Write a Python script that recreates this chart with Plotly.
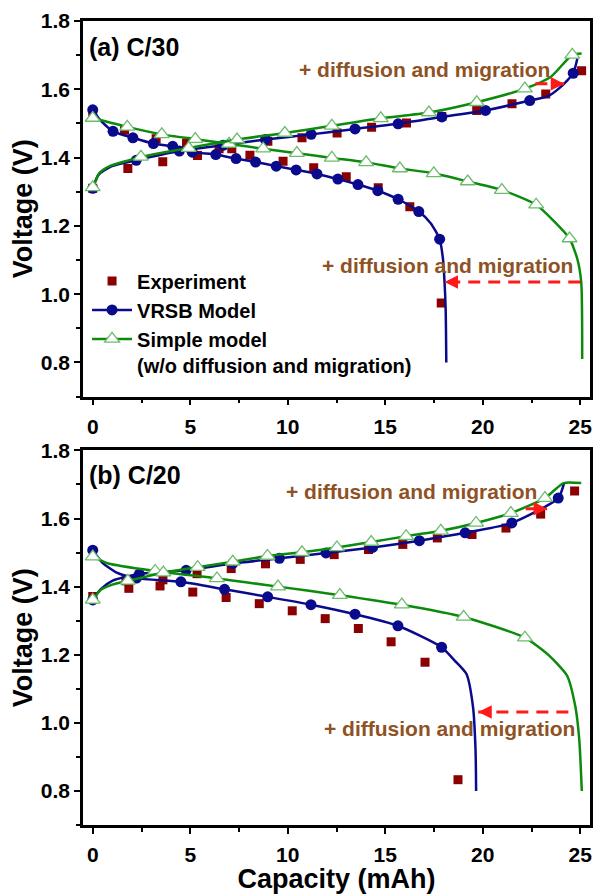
import plotly.graph_objects as go

FONT = "Arial, Liberation Sans, sans-serif"

# ---------------- Panel (a) C/30 ----------------
exp_a_dis_x = [0, 1.63, 3.25, 4.81, 6.48, 8.06, 9.76, 11.33, 13.0, 14.64, 16.26, 17.87]
exp_a_dis_y = [1.526, 1.48, 1.455, 1.443, 1.426, 1.407, 1.389, 1.370, 1.344, 1.312, 1.256, 0.974]
exp_a_chg_x = [0, 1.8, 3.59, 5.37, 7.13, 8.98, 10.73, 12.53, 14.3, 16.09, 17.9, 19.69, 21.5, 23.23, 25.07]
exp_a_chg_y = [1.31, 1.368, 1.388, 1.406, 1.426, 1.448, 1.458, 1.472, 1.489, 1.501, 1.52, 1.538, 1.558, 1.586, 1.654]

vrsb_a_dis_mx = [0, 1.04, 2.06, 3.11, 4.1, 5.1, 6.31, 7.35, 8.35, 9.41, 10.43, 11.5, 12.57, 13.6, 14.62, 15.66, 16.72, 17.79]
vrsb_a_dis_my = [1.54, 1.477, 1.458, 1.441, 1.433, 1.416, 1.409, 1.397, 1.387, 1.375, 1.364, 1.352, 1.337, 1.321, 1.303, 1.278, 1.242, 1.161]
vrsb_a_dis_lx = [0, 0.36, 1.04, 2.06, 3.11, 4.1, 5.1, 6.31, 7.35, 8.35, 9.41, 10.43, 11.5, 12.57, 13.6, 14.62, 15.66, 16.72, 17.33, 17.79, 17.96, 18.04, 18.1, 18.13]
vrsb_a_dis_ly = [1.54, 1.511, 1.477, 1.458, 1.441, 1.433, 1.416, 1.409, 1.397, 1.387, 1.375, 1.364, 1.352, 1.337, 1.321, 1.303, 1.278, 1.242, 1.208, 1.161, 1.103, 1.036, 0.95, 0.80]

vrsb_a_chg_mx = [0, 2.23, 4.44, 6.68, 8.86, 11.2, 13.45, 15.66, 17.9, 20.14, 22.41, 24.64]
vrsb_a_chg_my = [1.31, 1.392, 1.419, 1.436, 1.453, 1.468, 1.484, 1.499, 1.519, 1.538, 1.567, 1.647]
vrsb_a_chg_lx = [0, 0.3, 0.9, 2.23, 4.44, 6.68, 8.86, 11.2, 13.45, 15.66, 17.9, 20.14, 22.41, 23.32, 24.0, 24.64, 24.85]
vrsb_a_chg_ly = [1.31, 1.35, 1.373, 1.392, 1.419, 1.436, 1.453, 1.468, 1.484, 1.499, 1.519, 1.538, 1.567, 1.579, 1.607, 1.647, 1.69]

simp_a_dis_mx = [0, 1.77, 3.54, 5.26, 6.99, 8.74, 10.47, 12.26, 14.02, 15.75, 17.49, 19.23, 20.98, 22.74, 24.45]
simp_a_dis_my = [1.516, 1.49, 1.468, 1.454, 1.44, 1.426, 1.413, 1.399, 1.386, 1.368, 1.354, 1.330, 1.305, 1.262, 1.163]
simp_a_dis_lx = simp_a_dis_mx[:14] + [23.65, 24.45, 24.85, 25.05, 25.1]
simp_a_dis_ly = simp_a_dis_my[:14] + [1.214, 1.163, 1.103, 1.035, 0.81]

simp_a_chg_mx = [0, 2.47, 4.92, 7.4, 9.85, 12.26, 14.77, 17.24, 19.69, 22.16, 24.59]
simp_a_chg_my = [1.313, 1.402, 1.428, 1.453, 1.472, 1.493, 1.515, 1.532, 1.562, 1.602, 1.701]
simp_a_chg_lx = [0, 0.36, 0.87, 1.72, 2.47, 4.92, 7.4, 9.85, 12.26, 14.77, 17.24, 19.69, 22.16, 23.5, 24.59, 25.07]
simp_a_chg_ly = [1.313, 1.356, 1.375, 1.39, 1.402, 1.428, 1.453, 1.472, 1.493, 1.515, 1.532, 1.562, 1.602, 1.637, 1.701, 1.705]

# ---------------- Panel (b) C/20 ----------------
exp_b_dis_x = [1.7, 3.45, 5.13, 6.84, 8.54, 10.23, 11.92, 13.62, 15.3, 17.04, 18.73]
exp_b_dis_y = [1.417, 1.402, 1.384, 1.368, 1.35, 1.329, 1.306, 1.277, 1.238, 1.178, 0.833]
exp_b_chg_x = [0, 1.85, 3.6, 5.35, 7.1, 8.86, 10.64, 12.38, 14.14, 15.9, 17.67, 19.45, 21.19, 22.97, 24.71]
exp_b_chg_y = [1.371, 1.395, 1.42, 1.438, 1.453, 1.467, 1.48, 1.494, 1.509, 1.524, 1.543, 1.553, 1.572, 1.613, 1.681]

vrsb_b_dis_mx = [0, 2.24, 4.52, 6.76, 8.97, 11.19, 13.45, 15.65, 17.89]
vrsb_b_dis_my = [1.507, 1.425, 1.414, 1.392, 1.37, 1.347, 1.319, 1.285, 1.222]
vrsb_b_dis_lx = [0, 0.5, 1.2, 2.24, 4.52, 6.76, 8.97, 11.19, 13.45, 15.65, 17.89, 18.56, 19.16, 19.5, 19.63, 19.66]
vrsb_b_dis_ly = [1.507, 1.47, 1.442, 1.425, 1.414, 1.392, 1.37, 1.347, 1.319, 1.285, 1.222, 1.183, 1.144, 1.047, 0.92, 0.80]

vrsb_b_chg_mx = [0, 2.39, 4.79, 7.18, 9.57, 11.96, 14.35, 16.75, 19.1, 21.49, 23.87]
vrsb_b_chg_my = [1.361, 1.437, 1.448, 1.468, 1.483, 1.499, 1.515, 1.535, 1.558, 1.587, 1.66]
vrsb_b_chg_lx = [0, 0.4, 1.0, 2.39, 4.79, 7.18, 9.57, 11.96, 14.35, 16.75, 19.1, 21.49, 23.87, 24.17]
vrsb_b_chg_ly = [1.361, 1.392, 1.417, 1.437, 1.448, 1.468, 1.483, 1.499, 1.515, 1.535, 1.558, 1.587, 1.66, 1.704]

simp_b_dis_mx = [0, 3.2, 6.37, 9.5, 12.67, 15.85, 19.02, 22.16]
simp_b_dis_my = [1.488, 1.446, 1.424, 1.4, 1.375, 1.347, 1.311, 1.25]
simp_b_dis_lx = [0, 0.8, 3.2, 6.37, 9.5, 12.67, 15.85, 19.02, 22.16, 23.39, 24.32, 24.75, 24.95, 25.08]
simp_b_dis_ly = [1.488, 1.468, 1.446, 1.424, 1.4, 1.375, 1.347, 1.311, 1.25, 1.198, 1.139, 1.047, 0.95, 0.80]

simp_b_chg_mx = [0, 1.8, 3.62, 5.38, 7.18, 8.96, 10.73, 12.52, 14.28, 16.07, 17.85, 19.66, 21.44, 23.19]
simp_b_chg_my = [1.361, 1.417, 1.441, 1.457, 1.473, 1.49, 1.501, 1.515, 1.531, 1.548, 1.564, 1.587, 1.616, 1.66]
simp_b_chg_lx = [0, 0.4, 1.0] + simp_b_chg_mx[1:] + [24.15, 25.05]
simp_b_chg_ly = [1.361, 1.39, 1.406] + simp_b_chg_my[1:] + [1.704, 1.704]

# ---------------- annotation geometry ----------------
panel_labels = ["(a) C/30", "(b) C/20"]
note_text = "+ diffusion and migration"
notes_a = [(17.0, 1.657), (18.2, 1.083)]
notes_b = [(16.36, 1.68), (18.3, 0.982)]
# dashed arrows: (x_start, x_tip, y)
long_arrow_a = (25.0, 18.04, 1.036)
long_arrow_b = (24.39, 19.77, 1.032)
short_arrow_a = (22.7, 24.18, 1.616)
short_arrow_b = (22.2, 23.3, 1.629)

C_EXP = "#8B0000"
C_VRSB = "#0A0A8C"
C_SIMP = "#0C8A0C"
C_TRI = "#6DBB6D"
C_NOTE = "#8E5224"
C_ARROW = "#FF1A1A"

fig = go.Figure()


def join(a, b):
    return list(a) + [None] + list(b)


def add_panel(xa, ya, exp_dis, exp_chg, vd, vc, sd, sc, legend):
    fig.add_trace(go.Scatter(
        x=join(exp_dis[0], exp_chg[0]), y=join(exp_dis[1], exp_chg[1]),
        mode="markers", name="Experiment", showlegend=legend, legendrank=1,
        marker=dict(symbol="square", size=9, color=C_EXP),
        xaxis=xa, yaxis=ya))
    for (lx, ly, mx, my) in (vd, vc):
        fig.add_trace(go.Scatter(x=lx, y=ly, mode="lines", showlegend=False,
                                 line=dict(color=C_VRSB, width=2.5, shape="spline", smoothing=0.6),
                                 xaxis=xa, yaxis=ya))
        fig.add_trace(go.Scatter(x=mx, y=my, mode="markers", showlegend=False,
                                 marker=dict(symbol="circle", size=11, color=C_VRSB),
                                 xaxis=xa, yaxis=ya))
    for (lx, ly, mx, my) in (sd, sc):
        fig.add_trace(go.Scatter(x=lx, y=ly, mode="lines", showlegend=False,
                                 line=dict(color=C_SIMP, width=2.5, shape="spline", smoothing=0.6),
                                 xaxis=xa, yaxis=ya))
        fig.add_trace(go.Scatter(x=mx, y=my, mode="markers", showlegend=False,
                                 marker=dict(symbol="triangle-up", size=13, color="white",
                                             line=dict(color=C_TRI, width=1.3)),
                                 xaxis=xa, yaxis=ya))


add_panel("x", "y", (exp_a_dis_x, exp_a_dis_y), (exp_a_chg_x, exp_a_chg_y),
          (vrsb_a_dis_lx, vrsb_a_dis_ly, vrsb_a_dis_mx, vrsb_a_dis_my),
          (vrsb_a_chg_lx, vrsb_a_chg_ly, vrsb_a_chg_mx, vrsb_a_chg_my),
          (simp_a_dis_lx, simp_a_dis_ly, simp_a_dis_mx, simp_a_dis_my),
          (simp_a_chg_lx, simp_a_chg_ly, simp_a_chg_mx, simp_a_chg_my), True)
add_panel("x2", "y2", (exp_b_dis_x, exp_b_dis_y), (exp_b_chg_x, exp_b_chg_y),
          (vrsb_b_dis_lx, vrsb_b_dis_ly, vrsb_b_dis_mx, vrsb_b_dis_my),
          (vrsb_b_chg_lx, vrsb_b_chg_ly, vrsb_b_chg_mx, vrsb_b_chg_my),
          (simp_b_dis_lx, simp_b_dis_ly, simp_b_dis_mx, simp_b_dis_my),
          (simp_b_chg_lx, simp_b_chg_ly, simp_b_chg_mx, simp_b_chg_my), False)

# legend-only entries for the model curves
fig.add_trace(go.Scatter(x=[None], y=[None], mode="lines+markers", name="VRSB Model", legendrank=2,
                         line=dict(color=C_VRSB, width=2.5),
                         marker=dict(symbol="circle", size=11, color=C_VRSB)))
fig.add_trace(go.Scatter(x=[None], y=[None], mode="lines+markers",
                         name="Simple model<br>(w/o diffusion and migration)", legendrank=3,
                         line=dict(color=C_SIMP, width=2.5),
                         marker=dict(symbol="triangle-up", size=13, color="white",
                                     line=dict(color=C_TRI, width=1.3))))

# arrows
for xa, ya, (x0, x1, yv), left in (("x", "y", long_arrow_a, True),
                                   ("x2", "y2", long_arrow_b, True),
                                   ("x", "y", short_arrow_a, False),
                                   ("x2", "y2", short_arrow_b, False)):
    fig.add_trace(go.Scatter(x=[x0, x1], y=[yv, yv], mode="lines", showlegend=False,
                             line=dict(color=C_ARROW, width=3, dash="12px,8px"),
                             xaxis=xa, yaxis=ya))
    fig.add_annotation(x=x1, y=yv, ax=x1 + (0.5 if left else -0.5), ay=yv,
                       xref=xa, yref=ya, axref=xa, ayref=ya, text="", showarrow=True,
                       arrowhead=2, arrowsize=0.9, arrowwidth=3, arrowcolor=C_ARROW)

for xa, ya, notes in (("x", "y", notes_a), ("x2", "y2", notes_b)):
    for (nx, ny) in notes:
        fig.add_annotation(x=nx, y=ny, xref=xa, yref=ya, text=note_text, showarrow=False,
                           font=dict(family=FONT, size=21, color=C_NOTE, weight="bold"))

for lbl, xa, ya, yy in ((panel_labels[0], "x", "y", 0.931), (panel_labels[1], "x2", "y2", 0.934)):
    fig.add_annotation(x=0.008, y=yy, xref=xa + " domain", yref=ya + " domain", text=lbl,
                       showarrow=False, xanchor="left", yanchor="middle",
                       font=dict(family=FONT, size=25, color="black", weight="bold"))

tickfont = dict(family=FONT, size=21, color="black", weight="bold")
titlefont = dict(family=FONT, size=27, color="black", weight="bold")


def xax(domain_anchor, title=None):
    d = dict(range=[-0.5, 25.5], tickmode="linear", tick0=0, dtick=5,
             showline=True, linecolor="black", linewidth=2.5, mirror=True,
             ticks="outside", ticklen=6, tickwidth=2, tickcolor="black",
             minor=dict(ticks="outside", ticklen=4, tickwidth=2, tickcolor="black", dtick=2.5, tick0=0),
             tickfont=tickfont, showgrid=False, zeroline=False, anchor=domain_anchor,
             ticklabelstandoff=3)
    if title:
        d["title"] = dict(text=title, font=titlefont, standoff=2)
    return d


def yax(domain, anchor):
    return dict(range=[0.7, 1.8], domain=domain, tickmode="linear", tick0=0.8, dtick=0.2,
                tickformat=".1f", showline=True, linecolor="black", linewidth=2.5, mirror=True,
                ticks="outside", ticklen=6, tickwidth=2, tickcolor="black",
                minor=dict(ticks="outside", ticklen=4, tickwidth=2, tickcolor="black", dtick=0.1, tick0=0.7),
                tickfont=tickfont, showgrid=False, zeroline=False, anchor=anchor,
                title=dict(text="Voltage (V)", font=titlefont, standoff=1))


fig.update_layout(
    width=600, height=894,
    margin=dict(l=83, r=7, t=21, b=66),
    paper_bgcolor="white", plot_bgcolor="white",
    xaxis=xax("y"),
    yaxis=yax([0.5328, 1.0], "x"),
    xaxis2=xax("y2", "Capacity (mAh)"),
    yaxis2=yax([0.0, 0.4659], "x2"),
    showlegend=True,
    legend=dict(x=0.008, y=0.701, xanchor="left", yanchor="top", bgcolor="rgba(0,0,0,0)",
                font=dict(family=FONT, size=20, color="black", weight="bold"),
                valign="top", tracegroupgap=0, itemwidth=40),
    font=dict(family=FONT),
)

fig.write_html("out.html")
